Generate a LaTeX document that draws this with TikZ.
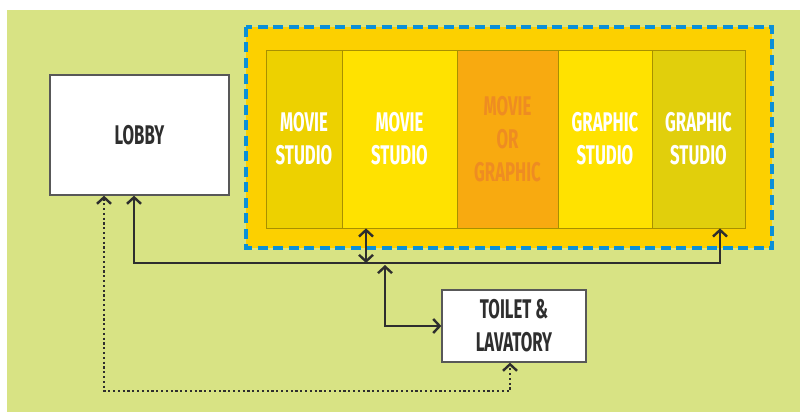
\documentclass[tikz,border=0pt]{standalone}
\usepackage{fontspec}
\newfontfamily\cond[FakeStretch=0.62]{Fira Sans}
\usetikzlibrary{arrows.meta,positioning,calc}
\definecolor{bggreen}{HTML}{D8E384}
\definecolor{zonefill}{HTML}{FCD000}
\definecolor{zoneblue}{HTML}{0A90D8}
\definecolor{stA}{HTML}{EDD100}
\definecolor{stB}{HTML}{FFE200}
\definecolor{stC}{HTML}{F8AA10}
\definecolor{stE}{HTML}{E1CF0C}
\definecolor{stline}{HTML}{A89000}
\definecolor{orangetext}{HTML}{EE8C22}
\definecolor{ink}{HTML}{2E2E2E}
\tikzset{
  studio/.style={draw=stline, line width=0.8pt, minimum height=178pt, inner sep=0pt,
    text=white, align=center, font=\cond\bfseries\fontsize{27}{33}\selectfont},
  whitebox/.style={draw=ink!80, line width=1.3pt, fill=white, inner sep=0pt,
    text=ink, align=center, font=\cond\bfseries\fontsize{27}{33}\selectfont},
  conn/.style={draw=ink, line width=2.4pt, arrows={Straight Barb[length=6.5pt,width=14pt]-Straight Barb[length=6.5pt,width=14pt]}},
  dotconn/.style={conn, dash pattern=on 2.2pt off 2.6pt}
}
\begin{document}
\begin{tikzpicture}[x=1pt,y=-1pt]
\useasboundingbox (0,0) rectangle (800,412);
\fill[white] (0,0) rectangle (800,412);
\fill[bggreen] (7,10) rectangle (800,412);
% zone
\fill[zonefill] (246,27) rectangle (772,248);
\draw[zoneblue, line width=4pt, dash pattern=on 10pt off 5.5pt] (246,27) rectangle (772,248);
% studios
\node[studio, fill=stA, minimum width=76pt] (s1) at (304,139) {MOVIE\\STUDIO};
\node[studio, fill=stB, minimum width=115pt] (s2) at (399.5,139) {MOVIE\\STUDIO};
\node[studio, fill=stC, minimum width=101pt, text=orangetext] (s3) at (507.5,139) {MOVIE\\OR\\GRAPHIC};
\node[studio, fill=stB, minimum width=94pt] (s4) at (605,139) {GRAPHIC\\STUDIO};
\node[studio, fill=stE, minimum width=93pt] (s5) at (698.5,139) {GRAPHIC\\STUDIO};
% lobby and toilet
\node[whitebox, minimum width=179pt, minimum height=120pt] (lobby) at (139.5,135) {LOBBY};
\node[whitebox, minimum width=144pt, minimum height=72pt] (toilet) at (514,326) {TOILET \&\\LAVATORY};
% junctions
\coordinate (j1) at (134,263);
\coordinate (j2) at (720,263);
\coordinate (j3) at (366,263);
\coordinate (j4) at (385,265);
\coordinate (j5) at (104,391);
\coordinate (j6) at (510,391);
% connectors
\draw[conn] (lobby.south -| j1) -- (j1) -- (j2) -- (s5.south -| j2);
\draw[conn] (s2.south -| j3) -- (j3);
\draw[conn] (j4) |- (toilet.west);
\draw[dotconn] (lobby.south -| j5) -- (j5) -- (j6) -- (toilet.south -| j6);
\end{tikzpicture}
\end{document}
